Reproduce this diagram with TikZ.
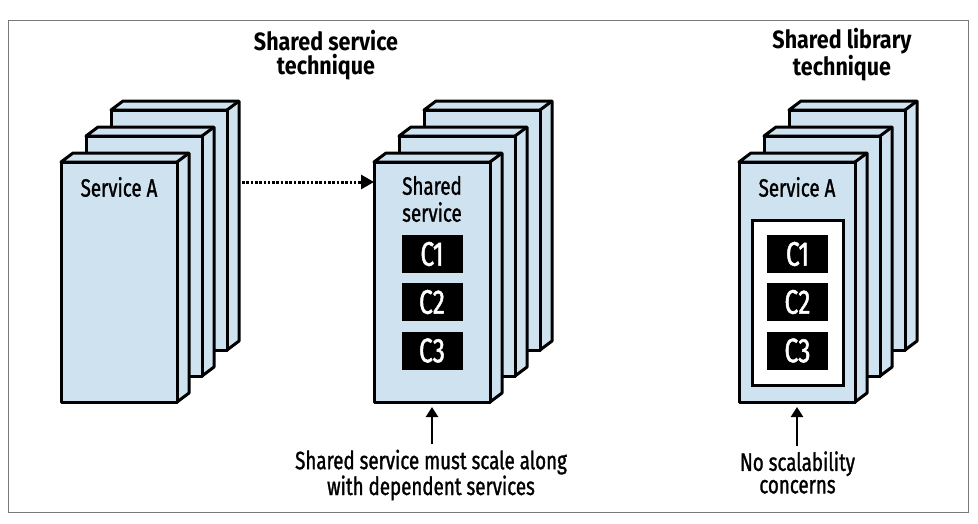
\documentclass[tikz,border=0pt]{standalone}
\usepackage{fontspec}
\setmainfont{Fira Sans}[FakeStretch=0.75, FakeBold=1.2]
\newfontfamily\titlefont{Fira Sans}[FakeStretch=0.86]
\newfontfamily\compfont{Fira Sans}[FakeStretch=0.72, FakeBold=1.4]
\usetikzlibrary{arrows.meta}
\definecolor{paleblue}{RGB}{206,226,240}
\definecolor{framegray}{RGB}{120,120,120}
\tikzset{
  slabline/.style={draw=black, fill=paleblue, line width=3pt, line join=round},
  frontface/.style={slabline, rectangle, inner sep=0pt, outer sep=0pt,
    minimum width=116pt, minimum height=240pt, anchor=north west},
  comp/.style={fill=black, text=white, inner sep=0pt, minimum width=61pt,
    minimum height=38pt, font=\compfont\fontsize{34}{34}\selectfont},
  libbox/.style={draw=black, fill=white, line width=3pt, inner sep=0pt,
    minimum width=91pt, minimum height=165pt},
  lbl/.style={inner sep=0pt, align=center, font=\fontsize{25}{22.5}\selectfont},
  boxlbl/.style={inner sep=0pt, align=center, font=\fontsize{25}{27}\selectfont},
  title/.style={inner sep=0pt, align=center, font=\titlefont\bfseries\fontsize{25}{23.4}\selectfont},
  dotarrow/.style={line width=3pt, dash pattern=on 2.6pt off 1.7pt,
    -{Triangle[length=13pt,width=14pt]}},
  solidarrow/.style={line width=2.4pt, -{Triangle[length=10pt,width=12pt]},
    shorten >=5pt, shorten <=5pt},
}
\newcommand\slab[3]{%
  \filldraw[slabline] (#2,#3) -- ++(12,-9) -- ++(116,0) -- ++(0,240) -- ++(-12,9) -- ++(0,-240) -- cycle;
  \draw[slabline] (#2+116,#3) -- ++(12,-9);
  \node[frontface] (#1) at (#2,#3) {};
}
\begin{document}
\begin{tikzpicture}[x=1pt,y=-1pt]
\useasboundingbox (0,0) rectangle (978,523);
\draw[framegray, line width=1.5pt] (8.5,20.5) rectangle (968.5,512.5);

% titles
\node[title] (t1) at (326,55) {Shared service\\technique};
\node[title] (t2) at (842,55) {Shared library\\technique};

% stack 1: Service A
\slab{saback}{111}{110}
\slab{samid}{86}{136}
\slab{safront}{61}{162}
\node[boxlbl] (satxt) at (119,187) {Service A};

% stack 2: shared service
\slab{ssback}{424}{110}
\slab{ssmid}{399}{136}
\slab{ssfront}{374}{162}
\node[boxlbl] (sstxt) at (432,199) {Shared\\service};
\node[comp] (sc1) at (432,254) {C1};
\node[comp] (sc2) at (432,302) {C2};
\node[comp] (sc3) at (432,350.5) {C3};

% stack 3: shared library
\slab{slback}{789}{110}
\slab{slmid}{764}{136}
\slab{slfront}{739}{162}
\node[boxlbl] (sltxt) at (797,187) {Service A};
\node[libbox] (lib) at (797.5,302.5) {};
\node[comp] (lc1) at (797.5,254) {C1};
\node[comp] (lc2) at (797.5,302) {C2};
\node[comp] (lc3) at (797.5,350.5) {C3};

% dotted arrow
\coordinate (dstart) at (242,182);
\draw[dotarrow] (dstart) -- (ssfront.west |- dstart);

% bottom labels
\node[lbl] (lab1) at (431,475) {Shared service must scale along\\with dependent services};
\node[lbl] (lab2) at (797.5,472.5) {No scalability\\concerns};
\draw[solidarrow] (ssfront.south |- lab1.north) -- (ssfront.south);
\draw[solidarrow] (slfront.south |- lab2.north) -- (slfront.south);
\end{tikzpicture}
\end{document}
